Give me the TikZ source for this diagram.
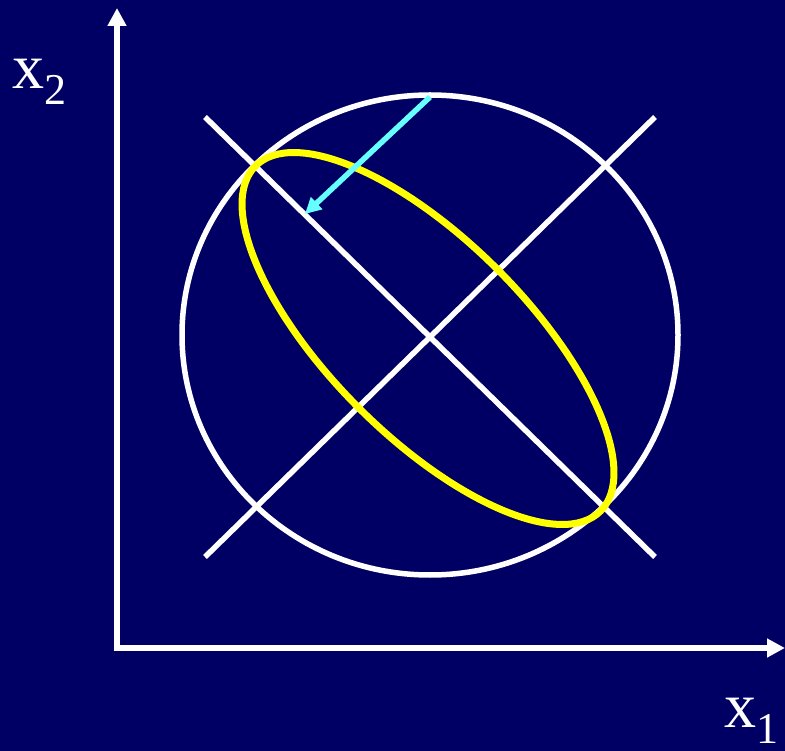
\documentclass[tikz,border=0pt]{standalone}
\usepackage{fontspec}
\setmainfont{Liberation Serif}
\usetikzlibrary{arrows.meta}
\definecolor{bg}{RGB}{0,0,100}
\definecolor{cyanarrow}{RGB}{102,255,255}
\definecolor{yel}{RGB}{255,255,0}
\tikzset{
  axisline/.style={white, line width=6.5pt, -{Triangle[width=18pt,length=18pt]}},
  diag/.style={white, line width=5.5pt},
  circ/.style={white, line width=5.5pt},
  yell/.style={yel, line width=7pt},
  cyarrow/.style={cyanarrow, line width=5.5pt, -{Triangle[width=16pt,length=16pt]}},
  lbl/.style={white, inner sep=0pt, anchor=base west, font=\fontsize{64}{64}\selectfont}
}
\begin{document}
\begin{tikzpicture}[x=1pt,y=-1pt]
\fill[bg] (0,0) rectangle (785,751);
\useasboundingbox (0,0) rectangle (785,751);
\coordinate (O) at (117,651);
\coordinate (Yt) at (117,8);
\coordinate (Ox) at (114,648);
\coordinate (Xt) at (785,648);
\coordinate (C) at (430,335);
\coordinate (D1a) at (205,117);
\coordinate (D1b) at (655,557);
\coordinate (D2a) at (205,557);
\coordinate (D2b) at (655,117);
\coordinate (E) at (428,338.5);
\coordinate (As) at (430,97);
\coordinate (Ae) at (305,214);
% axes
\draw[axisline] (O) -- (Yt);
\draw[axisline] (Ox) -- (Xt);
% circle
\draw[circ] (C) ellipse [x radius=248, y radius=240];
% diagonals
\draw[diag] (D1a) -- (D1b);
\draw[diag] (D2a) -- (D2b);
% yellow ellipse
\draw[yell, rotate around={-45:(E)}] (E) ellipse [x radius=244, y radius=98];
% cyan arrow
\draw[cyarrow] (As) -- (Ae);
% labels
\node[lbl] (x2) at (12,89) {x\raisebox{-16pt}{\fontsize{44}{44}\selectfont 2}};
\node[lbl] (x1) at (724,727) {x\raisebox{-16pt}{\fontsize{44}{44}\selectfont 1}};
\end{tikzpicture}
\end{document}
